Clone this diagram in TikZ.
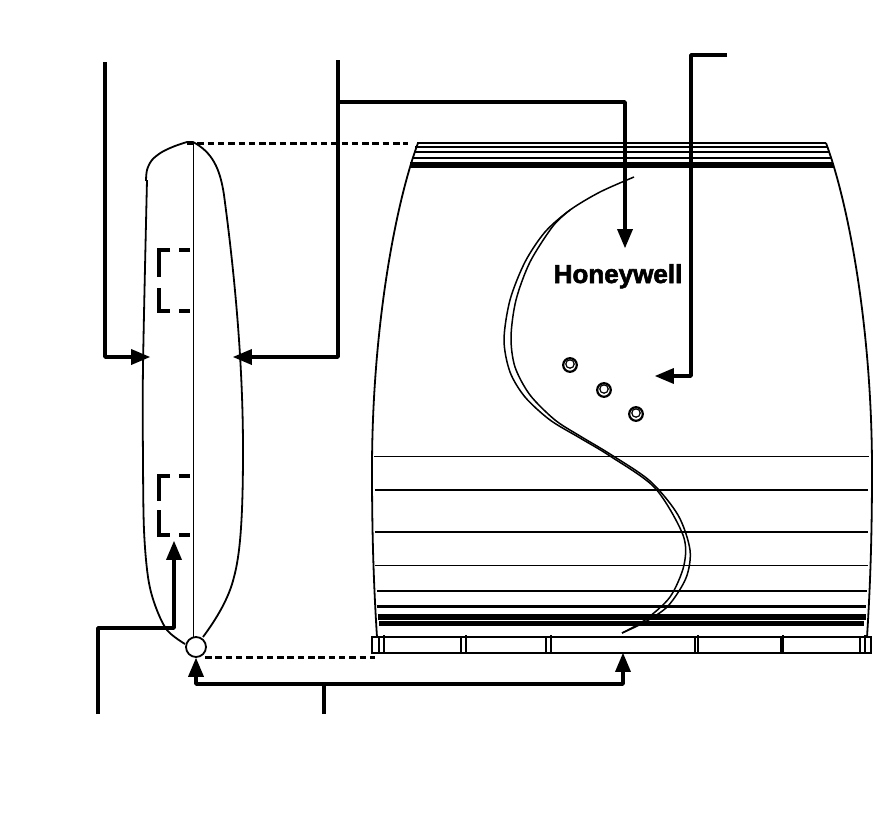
\documentclass[tikz,border=0pt]{standalone}
\usepackage{fontspec}
\setmainfont{Liberation Sans}
\newfontfamily\logofont{Liberation Sans}[BoldFont=* Bold,BoldFeatures={FakeBold=2.2}]
\usetikzlibrary{arrows}
\tikzset{
    leader/.style={line width=3.5pt,line join=round,>=triangle 45},
    gap/.style={line width=3pt,dash pattern=on 6.5pt off 3.8pt},
    outline/.style={line width=1.8pt},
    hair/.style={line width=1pt},
    bracket/.style={line width=4pt},
}
\begin{document}
\begin{tikzpicture}[x=1pt,y=-1pt]
            \useasboundingbox (0,0) rectangle (873,817);
            \coordinate (L1) at (105,62);
            \coordinate (L2) at (105,357);
            \coordinate (L3) at (150,357);
            \coordinate (R1) at (338,60);
            \coordinate (R2) at (338,357);
            \coordinate (R3) at (233,357);
            \coordinate (T1) at (338,102);
            \coordinate (T2) at (625,102);
            \coordinate (T3) at (625,248);
            \coordinate (K1) at (727,55);
            \coordinate (K2) at (691,55);
            \coordinate (K3) at (691,376);
            \coordinate (K4) at (655,376);
            \coordinate (P1) at (98,714);
            \coordinate (P2) at (98,628);
            \coordinate (P3) at (174,628);
            \coordinate (P4) at (174,541);
            \coordinate (B1) at (324,714);
            \coordinate (B2) at (324,684);
            \coordinate (B3) at (196,684);
            \coordinate (B4) at (623,684);
            \coordinate (B5) at (623,653);
            \coordinate (Dtop) at (187,143);
            \coordinate (Ftop) at (408,143);
            \coordinate (Dbot) at (205,657);
            \coordinate (Fbot) at (375,657);

            % side view
            \draw[hair] (193,142) -- (193,640);
            \draw[outline] plot[smooth,tension=0.55] coordinates {(185,644) (167,630) (155,605) (148,577) (144,530) (143,460) (143,367) (147,180)};
            \draw[outline] plot[smooth,tension=0.55] coordinates {(146,181) (147,170) (152,160) (162,152) (175,146) (187,142)};
            \draw[outline] (187,142) -- (193,142) .. controls (212,152) and (220,168) .. (224,195)
                .. controls (232,255) and (243,350) .. (243,450)
                .. controls (243,520) and (240,555) .. (234,577)
                .. controls (229,598) and (217,618) .. (203,637);
            \node (hinge) at (196,647) [circle,draw,fill=white,line width=1.8pt,inner sep=0pt,minimum size=20pt] {};
            \foreach \a/\b/\c/\d in {250/277/288/311, 476/501/510/535} {
                \draw[bracket] (170,\a) -- (159,\a) -- (159,\b);
                \draw[bracket] (159,\c) -- (159,\d) -- (170,\d);
                \draw[bracket] (179,\a) -- (190,\a);
                \draw[bracket] (179,\d) -- (190,\d);
            }

            % front view
            \draw[outline] (418,143) .. controls (395,205) and (372,330) .. (372,470)
                .. controls (372,540) and (374,590) .. (377,637);
            \draw[outline] (826,143) .. controls (849,205) and (872,330) .. (872,470)
                .. controls (872,540) and (870,590) .. (867,637);
            \draw[line width=1.3pt] (417,143) -- (826,143);
            \foreach \y/\xa/\xb/\w in {147/415/827/1.3, 152/414/829/1.3, 158/412/831/2, 165/410/833/5.5,
                    456/374/869/1, 490/375/868/1.7, 532/375/868/1.7, 565/375/868/1,
                    591/377/867/1.9, 606/377/866/3, 617/378/866/5.5, 623.5/379/864/5.5} {
                \draw[line width=\w pt] (\xa,\y) -- (\xb,\y);
            }
            \draw[line width=1.2pt] (372,637) rectangle (871,653);
            \foreach \xa/\xb in {379/384, 461/466, 546/551, 695/698, 781/783, 860/865} {
                \draw[line width=1.2pt] (\xa,637) -- (\xa,653);
                \draw[line width=1.7pt] (\xb,635) -- (\xb,653);
            }
            \draw[line width=1.5pt] plot[smooth] coordinates {(634,177) (600,192) (570,210) (545,232) (525,262) (510,300) (504,340)
                (510,372) (525,397) (550,420) (580,438) (610,456) (655,488) (683,535) (684,565) (670,597) (645,620) (622,633)};
            \draw[line width=1.5pt] plot[smooth] coordinates {(570,210) (553,226) (530,262) (516,300) (511,337)
                (515,367) (530,395) (555,420) (580,436) (610,454) (650,481) (678,515) (690,550) (686,578) (668,606) (645,622) (622,633)};
            \node (logo) at (618,283) [anchor=base,inner sep=0pt,font=\logofont\fontsize{26}{26}\selectfont\bfseries] {Honeywell};
            \foreach \x/\y [count=\n] in {570/365, 604/390, 636/414} {
                \draw[line width=2.2pt] (\x,\y) circle (6.8pt);
                \draw[line width=1.2pt] (\x,\y-1) circle (4.2pt);
            }

            % leaders
            \draw[leader,->] (L1) -- (L2) -- (L3);
            \draw[leader,->] (R1) -- (R2) -- (R3);
            \draw[leader,->] (T1) -- (T2) -- (T3);
            \draw[leader,->] (K1) -- (K2) -- (K3) -- (K4);
            \draw[leader,->] (P1) -- (P2) -- (P3) -- (P4);
            \draw[leader] (B1) -- (B2);
            \draw[leader,->] (B2) -- (B3) -- (hinge.south);
            \draw[leader,->] (B2) -- (B4) -- (B5);
            \draw[gap] (Dtop) -- (Ftop);
            \draw[gap] (Dbot) -- (Fbot);
\end{tikzpicture}
\end{document}
